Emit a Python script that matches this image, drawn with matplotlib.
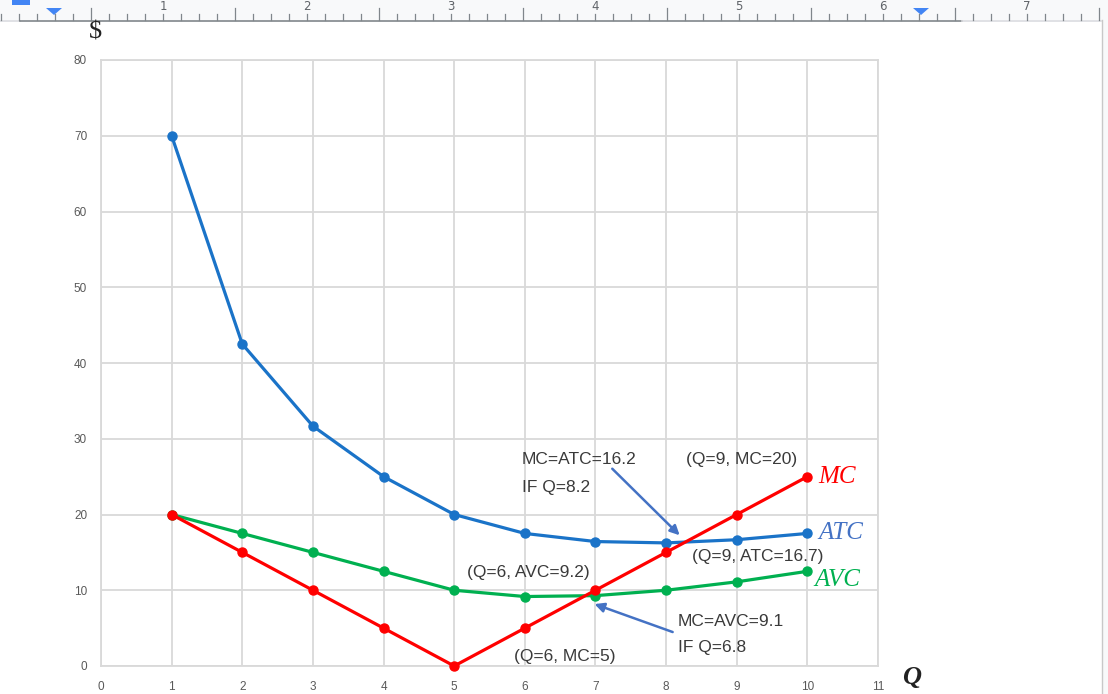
import matplotlib
matplotlib.use("Agg")
import matplotlib.pyplot as plt
from matplotlib.patches import Rectangle, Polygon

# cost schedule
q = [1, 2, 3, 4, 5, 6, 7, 8, 9, 10]
atc = [70, 42.5, 31.67, 25, 20, 17.5, 16.43, 16.25, 16.67, 17.5]
avc = [20, 17.5, 15, 12.5, 10, 9.17, 9.29, 10, 11.11, 12.5]
mc = [20, 15, 10, 5, 0, 5, 10, 15, 20, 25]

x_ticks = list(range(0, 12))
y_ticks = list(range(0, 90, 10))

notes = [
    ("MC=ATC=16.2", 5.96, 27.2),
    ("IF Q=8.2", 5.96, 23.6),
    ("(Q=9, MC=20)", 8.28, 27.2),
    ("(Q=9, ATC=16.7)", 8.37, 14.5),
    ("(Q=6, AVC=9.2)", 5.18, 12.4),
    ("MC=AVC=9.1", 8.17, 5.94),
    ("IF Q=6.8", 8.17, 2.38),
    ("(Q=6, MC=5)", 5.85, 1.19),
]

W, H = 1108, 694
fig = plt.figure(figsize=(W / 100, H / 100), dpi=100)

# ---- document ruler along the top ----
rul = fig.add_axes([0, 0, 1, 1])
rul.set_xlim(0, W)
rul.set_ylim(H, 0)
rul.axis("off")
rul.add_patch(Rectangle((0, 0), W, 20, color="#f8f9fa", lw=0))
rul.add_patch(Rectangle((1102, 20), 6, H - 20, color="#f8f9fa", lw=0))
rul.plot([0, 20], [20.5, 20.5], color="#dadce0", lw=1.2)
rul.plot([20, 962], [20.5, 20.5], color="#80868b", lw=1.2)
rul.plot([962, 1101], [20.5, 20.5], color="#dadce0", lw=1.2)
rul.plot([1101.5, 1101.5], [20, H], color="#c8c8c8", lw=1)
for k in range(-1, 62):
    xp = 19 + 18 * k
    if xp < 0 or xp > 1100:
        continue
    top = 8 if k % 4 == 0 and k % 8 != 0 else 14
    rul.plot([xp, xp], [top, 20], color="#80868b", lw=0.9)
for n in range(1, 8):
    rul.text(19 + 144 * n, 6.5, str(n), ha="center", va="center",
             fontsize=8.5, color="#5f6368", family="DejaVu Sans")
rul.add_patch(Rectangle((12, 0), 18, 5, color="#4285f4", lw=0))
for cx in (54, 921):
    rul.add_patch(Polygon([[cx - 8, 8], [cx + 8, 8], [cx, 15]],
                          closed=True, color="#4285f4", lw=0))

# ---- chart ----
ax = fig.add_axes([101 / W, 28 / H, 777 / W, 606 / H])
ax.set_xlim(0, 11)
ax.set_ylim(0, 80)
ax.set_xticks(x_ticks)
ax.set_yticks(y_ticks)
ax.grid(True, color="#d9d9d9", lw=1.3)
ax.set_axisbelow(True)
for s in ax.spines.values():
    s.set_color("#d9d9d9")
    s.set_linewidth(1.3)
ax.tick_params(length=0, labelsize=8.5, labelcolor="#595959")
ax.tick_params(axis="x", pad=11)
ax.tick_params(axis="y", pad=10)
for lab in ax.get_xticklabels() + ax.get_yticklabels():
    lab.set_family("Liberation Sans")

ax.plot(q, atc, color="#1a73c8", lw=2.3, marker="o", ms=6.5, clip_on=False, zorder=3)
ax.plot(q, avc, color="#00b050", lw=2.3, marker="o", ms=6.5, clip_on=False, zorder=3)
ax.plot(q, mc, color="#ff0000", lw=2.3, marker="o", ms=6.5, clip_on=False, zorder=4)

serif = dict(family="Liberation Serif", style="italic", fontsize=18)
ax.text(10.15, mc[-1], "MC", color="#ff0000", va="center", **serif)
ax.text(10.15, atc[-1], "ATC", color="#4472c4", va="center", **serif)
ax.text(10.1, avc[-1] - 1.2, "AVC", color="#00b050", va="center", **serif)

for txt, xx, yy in notes:
    ax.text(xx, yy, txt, fontsize=12.5, color="#3a3a3a", va="center",
            family="Liberation Sans")

arrow = dict(arrowstyle="-|>", color="#4472c4", lw=1.8, mutation_scale=14)
ax.annotate("", xy=(8.22, 17.0), xytext=(7.21, 26.3), arrowprops=arrow)
ax.annotate("", xy=(6.95, 8.3), xytext=(8.13, 4.36), arrowprops=arrow)

fig.text(95 / W, 1 - 33 / H, "$", fontsize=19, family="Liberation Serif",
         ha="center", va="center", color="#222222")
fig.text(912 / W, 1 - 678 / H, "Q", fontsize=19, family="Liberation Serif",
         style="italic", weight="bold", ha="center", va="center", color="#222222")

fig.savefig("out.png", dpi=100)
